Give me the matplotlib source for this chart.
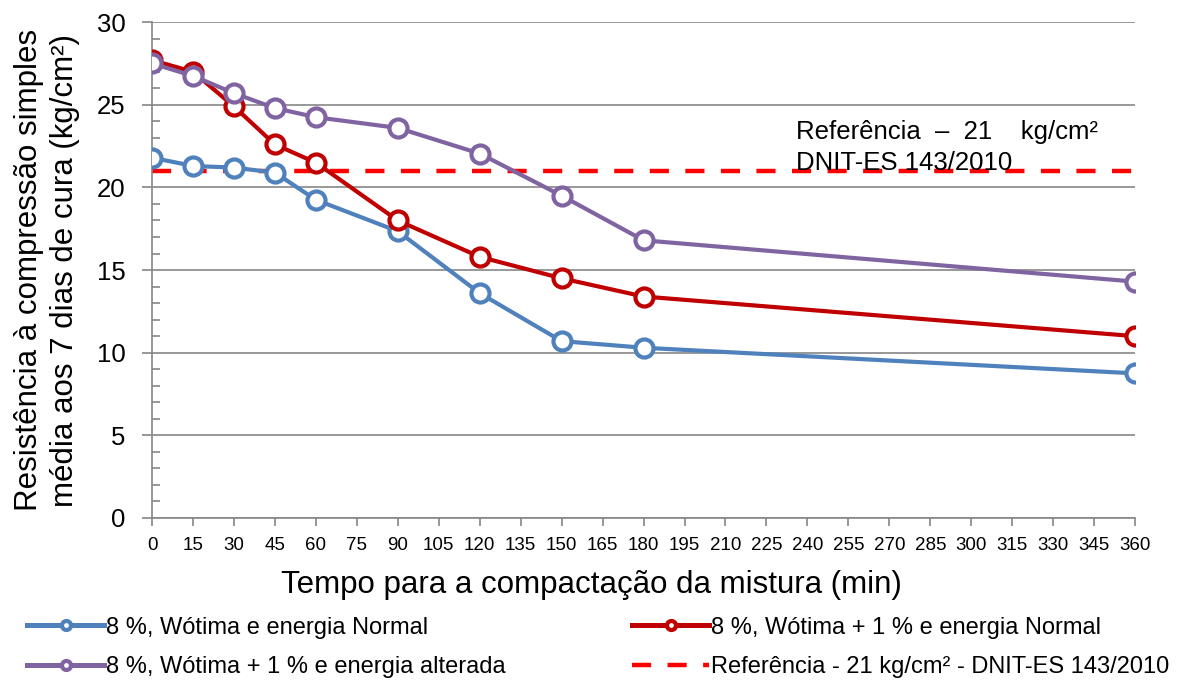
import matplotlib
matplotlib.use("Agg")
import matplotlib.pyplot as plt
from matplotlib.ticker import MultipleLocator

plt.rcParams['font.family'] = ['Liberation Sans', 'DejaVu Sans']

tempo = [0, 15, 30, 45, 60, 90, 120, 150, 180, 360]
normal = [21.8, 21.3, 21.2, 20.9, 19.25, 17.35, 13.6, 10.7, 10.3, 8.75]
mais1_normal = [27.7, 27.0, 24.9, 22.6, 21.5, 18.0, 15.8, 14.5, 13.4, 11.0]
mais1_alterada = [27.5, 26.75, 25.7, 24.8, 24.25, 23.6, 22.05, 19.5, 16.8, 14.3]
referencia = 21

labels = [
    "8 %, Wótima e energia Normal",
    "8 %, Wótima + 1 % e energia Normal",
    "8 %, Wótima + 1 % e energia alterada",
    "Referência - 21 kg/cm² - DNIT-ES 143/2010",
]
x_ticks = list(range(0, 361, 15))

fig = plt.figure(figsize=(11.83, 6.82), dpi=100)
ax = fig.add_axes([0.1285, 0.2405, 0.831, 0.727])

grey = '#868686'
ref_line, = ax.plot([0, 360], [referencia, referencia], color='#FF0000',
                    lw=3.2, ls=(0, (4.3, 3.7)), zorder=2, label=labels[3])
style = dict(lw=3.0, marker='o', markersize=13, markerfacecolor='white',
             markeredgewidth=3.0, zorder=3)
l1, = ax.plot(tempo, normal, color='#4F81BD', label=labels[0], **style)
l2, = ax.plot(tempo, mais1_normal, color='#C00000', label=labels[1], **style)
l3, = ax.plot(tempo, mais1_alterada, color='#8064A2', label=labels[2], **style)

ax.set_xlim(0, 360)
ax.set_ylim(0, 30)
ax.set_xticks(x_ticks)
ax.set_xticklabels([str(t) for t in x_ticks], fontsize=13.5)
ax.yaxis.set_major_locator(MultipleLocator(5))
ax.yaxis.set_minor_locator(MultipleLocator(1))
ax.tick_params(axis='y', which='major', labelsize=18.5, length=7, color=grey,
               width=1.2, direction='out', pad=12)
ax.tick_params(axis='y', which='minor', length=6, color=grey, width=1.2,
               direction='in')
ax.tick_params(axis='x', which='major', length=6, color=grey, width=1.2,
               direction='out', pad=8)
ax.grid(axis='y', color=grey, lw=1.2, zorder=0)
ax.set_axisbelow(True)
for side in ['top', 'right']:
    ax.spines[side].set_visible(False)
for side in ['left', 'bottom']:
    ax.spines[side].set_color(grey)
    ax.spines[side].set_linewidth(1.2)

fig.text(0.5, 1 - 585 / 682, "Tempo para a compactação da mistura (min)",
         fontsize=22.5, ha='center', va='center')
ax.set_ylabel("Resistência à compressão simples\nmédia aos 7 dias de cura (kg/cm²)",
              fontsize=22.5, labelpad=12, linespacing=1.25)

ax.text(236, 23.35, "Referência  –  21    kg/cm²", fontsize=18.5, va='center')
ax.text(236, 21.5, "DNIT-ES 143/2010", fontsize=18.5, va='center')

leg = fig.legend(handles=[l1, l3, l2, ref_line],
                 labels=[labels[0], labels[2], labels[1], labels[3]], ncol=2,
                 loc='lower left', bbox_to_anchor=(0.01, -0.017), borderpad=0.15,
                 frameon=False, fontsize=17, handlelength=3.25,
                 handletextpad=0.1, markerscale=0.5, labelspacing=0.75,
                 columnspacing=5.35)
for line in leg.get_lines()[:3]:
    line.set_linewidth(3.6)

fig.savefig("out.png", dpi=100)
